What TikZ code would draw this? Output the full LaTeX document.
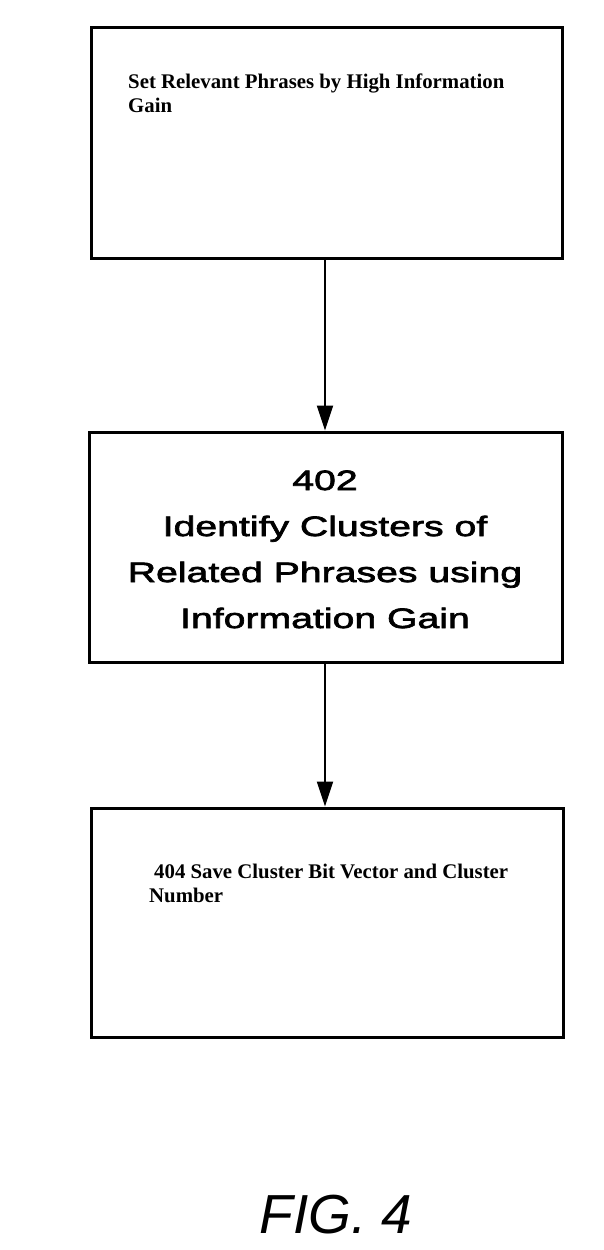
\documentclass[tikz,border=0pt]{standalone}
\usepackage{fontspec}
\setmainfont{Liberation Serif}
\newfontfamily\widesans[FakeStretch=1.4,FakeBold=2.5]{Liberation Sans}
\newfontfamily\figsans{Liberation Sans}
\usetikzlibrary{arrows.meta}
\begin{document}
\begin{tikzpicture}[x=1pt,y=1pt,
  stepbox/.style={draw, line width=3pt, rectangle, inner sep=0pt},
  flow/.style={line width=2pt, -{Triangle[length=25pt,width=16pt]}},
  serifbold/.style={font=\bfseries\fontsize{20.8}{24}\selectfont, inner sep=0pt, align=left},
]
\useasboundingbox (0,0) rectangle (603,-1250);
\fill[white] (0,0) rectangle (603,-1250);
% boxes
\node[stepbox, minimum width=471pt, minimum height=231pt] (b1) at (326.5,-142.5) {};
\node[stepbox, minimum width=473pt, minimum height=230pt] (b2) at (325.5,-547) {};
\node[stepbox, minimum width=472pt, minimum height=229pt] (b3) at (327,-922.5) {};
% texts
\node[serifbold, anchor=base west] (t1) at (128,-112) {Set Relevant Phrases by High Information\\Gain};
\node[font=\widesans\fontsize{28}{46}\selectfont, align=center, inner sep=0pt, anchor=base] (t2) at (325,-628)
  {402\\Identify Clusters of\\Related Phrases using\\Information Gain};
\node[serifbold, anchor=base west] (t3) at (149,-902) {\hspace*{5pt}404 Save Cluster Bit Vector and Cluster\\Number};
\node[font=\figsans\itshape\fontsize{55}{60}\selectfont, inner sep=0pt, anchor=base] (fig) at (336,-1233) {FIG. 4};
% connectors
\coordinate (a1s) at (b1.south -| t2.base);
\coordinate (a1e) at (b2.north -| t2.base);
\coordinate (a2s) at (b2.south -| t2.base);
\coordinate (a2e) at (b3.north -| t2.base);
\draw[flow] (a1s) -- (a1e);
\draw[flow] (a2s) -- (a2e);
\end{tikzpicture}
\end{document}
